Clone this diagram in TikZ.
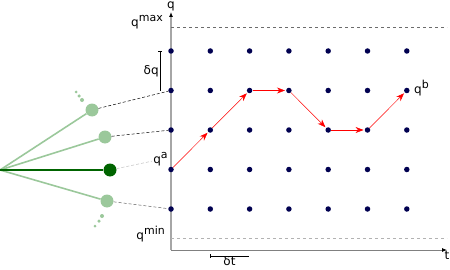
\documentclass[tikz,border=0pt]{standalone}
\usepackage{fontspec}
\setmainfont{DejaVu Sans}
\usetikzlibrary{arrows.meta, positioning}
\newcommand{\qsup}[1]{q\raisebox{0.42em}{\fontsize{11}{13}\selectfont #1}}
\definecolor{lightgreen}{RGB}{155,200,155}
\definecolor{darkgreen}{RGB}{0,100,0}
\definecolor{navydot}{RGB}{0,0,80}

\begin{document}
\begin{tikzpicture}[
    x=1pt, y=-1pt,
    gdot/.style={circle, fill=navydot, inner sep=0pt, minimum size=5.5pt},
    bnode/.style={circle, fill=lightgreen, inner sep=0pt, minimum size=13pt},
    bdot/.style={circle, fill=lightgreen, inner sep=0pt},
    move/.style={red, line width=0.5pt, -{Stealth[length=8pt, width=6pt]}, shorten >=1pt},
    link/.style={densely dashed, line width=0.5pt},
    axis/.style={-{Latex[length=5pt, width=4pt, color=black]}},
    lbl/.style={font=\fontsize{12}{14}\selectfont, inner sep=1pt}
]
\useasboundingbox (0,0) rectangle (450,270);

% axes and limits
\coordinate (o) at (171,250);
\coordinate (qtop) at (171,12);
\coordinate (tend) at (447,250);
\draw[axis, gray!70, line width=1.2pt] (o) -- (qtop);
\draw[axis, gray, line width=0.8pt] (o) -- (tend);
\node[lbl, above] (qlbl) at (qtop) {q};
\node[lbl, below] (tlbl) at (tend) {t};

\coordinate (qmaxl) at (171,27);
\coordinate (qmaxr) at (447,27);
\coordinate (qminl) at (171,238);
\coordinate (qminr) at (447,238);
\draw[dashed, gray!85!black] (qmaxl) -- (qmaxr);
\draw[dashed, gray!60] (qminl) -- (qminr);
\node[lbl, anchor=east] (qmaxlbl) at (164,22) {\qsup{max}};
\node[lbl, anchor=east] (qminlbl) at (166,234) {\qsup{min}};

% grid
\foreach \i in {0,...,6}
  \foreach \j in {0,...,4}
    \node[gdot] (p\i\j) at (171+39.3*\i, 51+39.5*\j) {};

% spacings
\coordinate (dqa) at (160,51);
\coordinate (dqb) at (160,91);
\draw[{Bar[width=4pt]}-, line width=0.6pt] (dqa) -- (dqb) node[midway, left, lbl] {δq};
\coordinate (dta) at (210,256);
\coordinate (dtb) at (249,256);
\draw[{Bar[width=4pt]}-, line width=0.6pt] (dta) -- (dtb) node[midway, below, lbl, inner sep=0pt] {δt};

% trajectory
\draw[move] (p03) -- (p12);
\draw[move] (p12) -- (p21);
\draw[move] (p21) -- (p31);
\draw[move] (p31) -- (p42);
\draw[move] (p42) -- (p52);
\draw[move] (p52) -- (p61);
\node[lbl, anchor=south east] (qalbl) at (p03.north west) {\qsup{a}};
\node[lbl, anchor=west] (qblbl) at (413,88) {\qsup{b}};

% branches
\coordinate (root) at (0,170);
\node[bnode] (b1) at (92,110) {};
\node[bnode] (b2) at (105,137) {};
\node[bnode, fill=darkgreen] (bcur) at (110,170) {};
\node[bnode] (b3) at (107,201) {};
\draw[lightgreen, line width=1.6pt] (root) -- (b1);
\draw[lightgreen, line width=1.6pt] (root) -- (b2);
\draw[lightgreen, line width=1.6pt] (root) -- (b3);
\draw[darkgreen, line width=2.4pt] (root) -- (bcur);
\node[bdot, minimum size=4pt] (u1) at (82,100) {};
\node[bdot, minimum size=3.5pt] (u2) at (79,96) {};
\node[bdot, minimum size=3pt] (u3) at (76,92) {};
\node[bdot, minimum size=4pt] (d1) at (102,216) {};
\node[bdot, minimum size=3.5pt] (d2) at (99,221) {};
\node[bdot, minimum size=3pt] (d3) at (95,226) {};

\draw[link] (b1) -- (p01);
\draw[link] (b2) -- (p02);
\draw[link, gray!50] (bcur) -- (qalbl);
\draw[link, gray!80!black] (b3) -- (p04);
\end{tikzpicture}
\end{document}
